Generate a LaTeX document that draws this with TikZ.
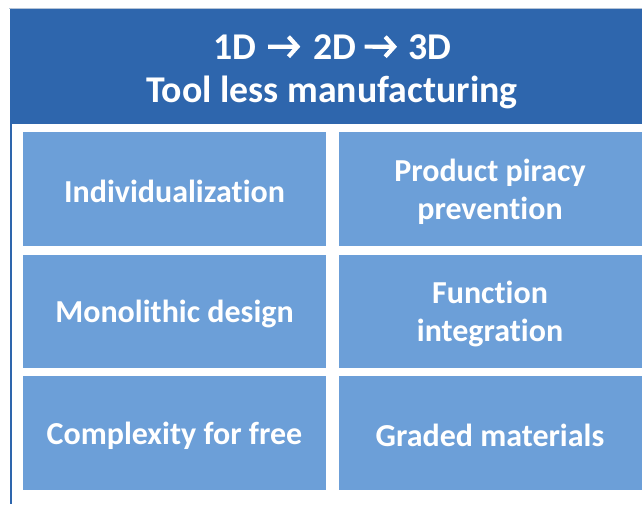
\documentclass[tikz,border=0pt]{standalone}
\usepackage{fontspec}
\setmainfont[Ligatures=NoCommon]{Carlito}
\usetikzlibrary{arrows.meta}
\definecolor{headblue}{HTML}{2E66AD}
\definecolor{cellblue}{HTML}{6C9FD8}
\definecolor{rimgray}{HTML}{B4C3D6}
\begin{document}
\begin{tikzpicture}[x=1pt,y=-1pt,
  cell/.style={fill=cellblue, draw=none, minimum width=303pt, minimum height=113.5pt, inner sep=0pt},
  celltext/.style={text=white, font=\fontsize{32}{38}\selectfont\bfseries, align=center,
    inner sep=0pt, yshift=-3pt},
  headtext/.style={text=white, font=\fontsize{37.8}{43}\selectfont\bfseries, inner sep=0pt},
  steparrow/.style={draw=white, line width=4.2pt, line join=miter,
    -{Straight Barb[length=9pt, width=20pt, line width=4.2pt]}}
]
\useasboundingbox (0,0) rectangle (642,504);
\fill[white] (0,0) rectangle (642,504);

% frame and header band
\draw[rimgray, line width=1pt] (9,8) -- (642,8);
\fill[headblue] (10,8.5) rectangle (642,124);
\draw[headblue, line width=2pt] (11,8.5) -- (11,504);

% header text
\node[headtext, anchor=base east] (d1) at (257,59) {1D};
\node[headtext, anchor=base] (d2) at (335,59) {2D};
\node[headtext, anchor=base west] (d3) at (408,59) {3D};
\draw[steparrow, shorten <=11pt, shorten >=13pt] (d1.east) -- (d2.west);
\draw[steparrow, shorten <=8pt, shorten >=11pt] (d2.east) -- (d3.west);
\node[headtext, anchor=base] (title) at (332,102) {Tool less manufacturing};

% feature grid
\node[cell] (c11) at (174.5,188.75) {};
\node[cell] (c12) at (490,188.75) {};
\node[cell] (c21) at (174.5,311.25) {};
\node[cell] (c22) at (490,311.25) {};
\node[cell] (c31) at (174.5,432.75) {};
\node[cell] (c32) at (490,432.75) {};

\node[celltext] (t11) at (c11.center) {Individualization};
\node[celltext] (t12) at (c12.center) {Product piracy\\prevention};
\node[celltext] (t21) at (c21.center) {Monolithic design};
\node[celltext] (t22) at (c22.center) {Function\\integration};
\node[celltext] (t31) at (c31.center) {Complexity for free};
\node[celltext] (t32) at (c32.center) {Graded materials};
\end{tikzpicture}
\end{document}
